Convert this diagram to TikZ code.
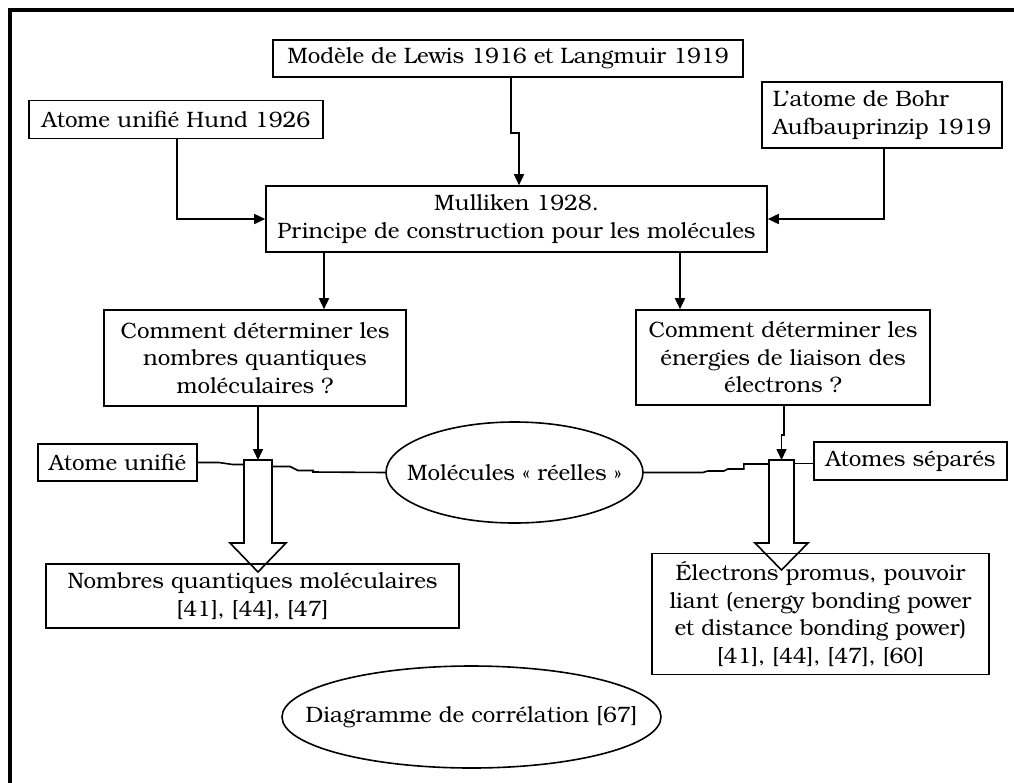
\documentclass[tikz,border=0pt]{standalone}
\usepackage{fontspec}
\setmainfont{TeX Gyre Bonum}
\usetikzlibrary{arrows.meta,shapes.geometric}
\begin{document}
\begin{tikzpicture}[x=1pt,y=-1pt,
  txt/.style={font=\fontsize{22.3}{27.5}\selectfont},
  box/.style={draw, line width=1.6pt, inner sep=0pt, align=center, txt},
  oval/.style={draw, ellipse, line width=1.6pt, inner sep=0pt, txt},
  arr/.style={line width=1.6pt, -{Triangle[length=11pt,width=10pt]}},
  link/.style={line width=1.6pt},
  hollow/.style={line width=1.6pt, line join=miter}]

\useasboundingbox (0,0) rectangle (1014,782);

% outer frame (runs off the page on the right and bottom)
\draw[line width=3.5pt] (10,10) rectangle (1040,800);

% top row
\node[box, minimum width=470pt, minimum height=37pt] (lewis) at (508,58.5)
  {Modèle de Lewis 1916 et Langmuir 1919};
\node[box, minimum width=294pt, minimum height=38pt] (hund) at (176,119.5)
  {Atome unifié Hund 1926};
\node[box, align=left, minimum width=240pt, minimum height=66pt] (bohr) at (882,115)
  {L’atome de Bohr\\Aufbauprinzip 1919};

% central box
\node[box, minimum width=501pt, minimum height=66pt] (mull) at (516.5,219)
  {Mulliken 1928.\\Principe de construction pour les molécules};

% the two questions
\node[box, minimum width=302pt, minimum height=96pt] (qleft) at (255,358)
  {Comment déterminer les\\nombres quantiques\\moléculaires ?};
\node[box, minimum width=294pt, minimum height=95pt] (qright) at (783,357.5)
  {Comment déterminer les\\énergies de liaison des\\électrons ?};

% correlation line
\node[box, minimum width=159pt, minimum height=37pt] (unif) at (117.5,462.5)
  {Atome unifié};
\node[box, minimum width=193pt, minimum height=38pt] (sep) at (910.5,461)
  {Atomes séparés};
\node[oval, minimum width=257pt, minimum height=101pt] (mol) at (514.5,472.5)
  {\makebox[0pt]{Molécules « réelles »}};

% results
\node[box, minimum width=413pt, minimum height=64pt] (nqm) at (252.5,596)
  {Nombres quantiques moléculaires\\{}[41], [44], [47]};
\node[box, minimum width=337pt, minimum height=121pt] (prom) at (820.5,614)
  {Électrons promus, pouvoir\\liant (energy bonding power\\et distance bonding power)\\{}[41], [44], [47], [60]};
\node[oval, minimum width=379pt, minimum height=102pt] (diag) at (471.5,717)
  {\makebox[0pt]{Diagramme de corrélation [67]}};

% hollow block arrows
\draw[hollow] (244,460) -- (272,460) -- (272,543) -- (286,543) -- (258,572)
  -- (230,543) -- (244,543) -- cycle;
\coordinate (LAtop) at (258,460);
\coordinate (LAw) at (244,464.5);
\coordinate (LAe) at (272,466.5);

\draw[hollow] (769,460) -- (794,460) -- (794,543) -- (808,543) -- (781.5,570)
  -- (755,543) -- (769,543) -- cycle;
\coordinate (RAtop) at (781.5,460);
\coordinate (RAw) at (769,464);
\coordinate (RAe) at (794,463.5);

% connectors
\draw[arr] ([xshift=3pt]lewis.south) -- ++(0,55) -| ([xshift=2.5pt]mull.north);
\draw[arr] ([xshift=1pt]hund.south) |- (mull.west);
\draw[arr] ([xshift=2pt]bohr.south) |- (mull.east);

\coordinate (xL) at (324,0);
\coordinate (xR) at (680,0);
\draw[arr] (mull.south -| xL) -- (qleft.north -| xL);
\draw[arr] (mull.south -| xR) -- (qright.north -| xR);

\draw[arr] (qleft.south -| LAtop) -- (LAtop);
\draw[arr] ([xshift=1pt]qright.south) -- ++(0,29) -- ++(-2.5,0) -- (RAtop);

\draw[link] (unif.east) -- ++(21,0) -- ++(14,2) -- (LAw);
\draw[link] (LAe) -- ++(18,0) -- ++(8,4) -- ++(15,0) -- ++(0,1.5) -- (mol.west);
\draw[link] (mol.east) -- ++(59,0) -- ++(5,-1.5) -- ++(16,0) -- ++(4,-2)
  -- ++(16,0) -- ++(0,-5) -- (RAw);
\draw[link] (RAe) -- (RAe -| sep.west);

\end{tikzpicture}
\end{document}
